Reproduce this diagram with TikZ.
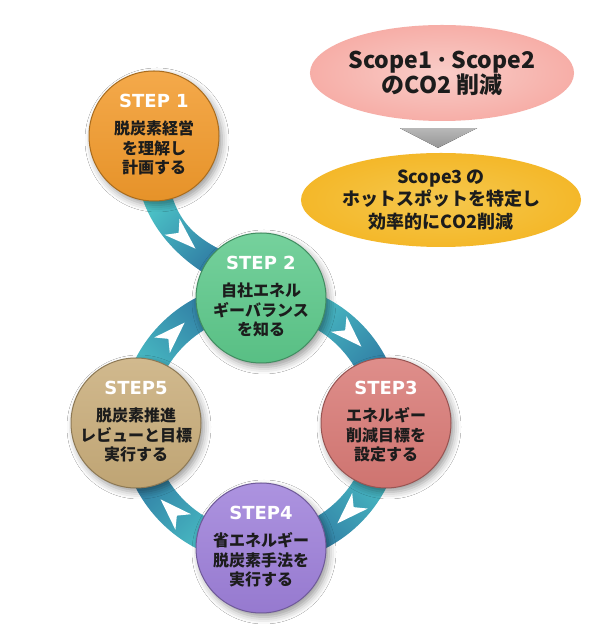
\documentclass[tikz,border=0pt]{standalone}
\usepackage{fontspec}
\usetikzlibrary{shapes.geometric,shadows.blur,calc}
\newfontfamily\jpf{Noto Sans CJK JP}
\newfontfamily\stepf{DejaVu Sans}
\definecolor{cOne}{HTML}{F29A2B}
\definecolor{cTwo}{HTML}{5DC98B}
\definecolor{cThree}{HTML}{D97A76}
\definecolor{cFour}{HTML}{9E80DA}
\definecolor{cFive}{HTML}{C9AD7A}
\definecolor{pinkE}{HTML}{F6B7B0}
\definecolor{yelE}{HTML}{F3BE2E}
\definecolor{ringL}{HTML}{4FCBCB}
\definecolor{ringD}{HTML}{2A6D9C}
\definecolor{triG}{HTML}{A6A6A6}
\definecolor{txt}{HTML}{1C1C1C}
\tikzset{
  stepc/.style={circle, minimum size=130pt, inner sep=0pt,
    blur shadow={shadow xshift=3pt, shadow yshift=-4pt, shadow blur radius=7pt, shadow opacity=40},
    shade, top color=#1!85!white, bottom color=#1!95!black, draw=#1!70!black, line width=1pt},
  steplbl/.style={font=\stepf\bfseries\fontsize{18}{20}\selectfont, text=white, inner sep=0pt},
  stepdesc/.style={font=\jpf\bfseries\fontsize{16}{19.5}\selectfont, text=txt, align=center, inner sep=0pt},
  chevron/.pic={\fill[white] (17,0) -- (-15,11) -- (-6,0) -- (-15,-11) -- cycle;},
  seg/.style={top color=ringL, bottom color=ringD, shading angle=#1}
}
\begin{document}
\begin{tikzpicture}[x=1pt,y=1pt]
\fill[white] (0,0) rectangle (595,640);
\useasboundingbox (0,0) rectangle (595,640);
% ring segments
\begin{scope}[shift={(261,217)}]
\coordinate (rc) at (0,0);
\shade[seg=45] (90:141) arc[start angle=90, end angle=0, radius=141] -- (0:109) arc[start angle=0, end angle=90, radius=109] -- cycle;
\shade[seg=-45] (0:141) arc[start angle=0, end angle=-90, radius=141] -- (-90:109) arc[start angle=-90, end angle=0, radius=109] -- cycle;
\shade[seg=-135] (-90:141) arc[start angle=-90, end angle=-180, radius=141] -- (-180:109) arc[start angle=-180, end angle=-90, radius=109] -- cycle;
\shade[seg=135] (180:141) arc[start angle=180, end angle=90, radius=141] -- (90:109) arc[start angle=90, end angle=180, radius=109] -- cycle;
\pic[rotate=-45] at (45:125) {chevron};
\pic[rotate=-135] at (-45:125) {chevron};
\pic[rotate=135] at (-135:125) {chevron};
\pic[rotate=45] at (135:125) {chevron};
\end{scope}
% connector step1 -> step2
\shade[seg=45] (166.8,467.2) .. controls (174.8,414.2) and (197.8,398.8) .. (245.8,378.8)
  -- (234.2,351.2) .. controls (186.2,371.2) and (145.2,409.8) .. (137.2,462.8) -- cycle;
\pic[rotate=-43] at (183,403) {chevron};
% step circles
\node[stepc=cOne] (s1) at (154,504) {};
\node[stepc=cTwo] (s2) at (261,342) {};
\node[stepc=cThree] (s3) at (386,217) {};
\node[stepc=cFour] (s4) at (261,92) {};
\node[stepc=cFive] (s5) at (136,217) {};
\foreach \n/\lab in {s1/STEP 1, s2/STEP 2, s3/STEP3, s4/STEP4, s5/STEP5}{
  \node[steplbl] (\n l) at ([yshift=35pt]\n.center) {\lab};
}
\node[stepdesc] (s1d) at ([yshift=-12pt]s1.center) {脱炭素経営\\を理解し\\計画する};
\node[stepdesc] (s2d) at ([yshift=-12pt]s2.center) {自社エネル\\ギーバランス\\を知る};
\node[stepdesc] (s3d) at ([yshift=-12pt]s3.center) {エネルギー\\削減目標を\\設定する};
\node[stepdesc] (s4d) at ([yshift=-12pt]s4.center) {省エネルギー\\脱炭素手法を\\実行する};
\node[stepdesc] (s5d) at ([yshift=-12pt]s5.center) {脱炭素推進\\レビューと目標\\実行する};
% scope ellipses
\node[ellipse, minimum width=262pt, minimum height=96pt, inner sep=0pt, shade, inner color=pinkE!70!white, outer color=pinkE!95!red,
  align=center, text=txt, font=\jpf\bfseries\fontsize{23}{25}\selectfont] (sc12) at (442,567) {Scope1\,･\,Scope2\\のCO2 削減};
\node[ellipse, minimum width=268pt, minimum height=94pt, inner sep=0pt, shade, inner color=yelE!85!white, outer color=yelE!90!orange,
  align=center, text=txt, font=\jpf\bfseries\fontsize{18}{22.5}\selectfont] (sc3) at (441,440) {Scope3 の\\ホットスポットを特定し\\効率的にCO2削減};
\fill[top color=triG!80!white, bottom color=triG!90!black] ($(sc12.south)+(-42,-7)$) -- ($(sc12.south)+(35,-7)$) -- ($(sc3.north)+(-3,5)$) -- cycle;
\end{tikzpicture}
\end{document}
